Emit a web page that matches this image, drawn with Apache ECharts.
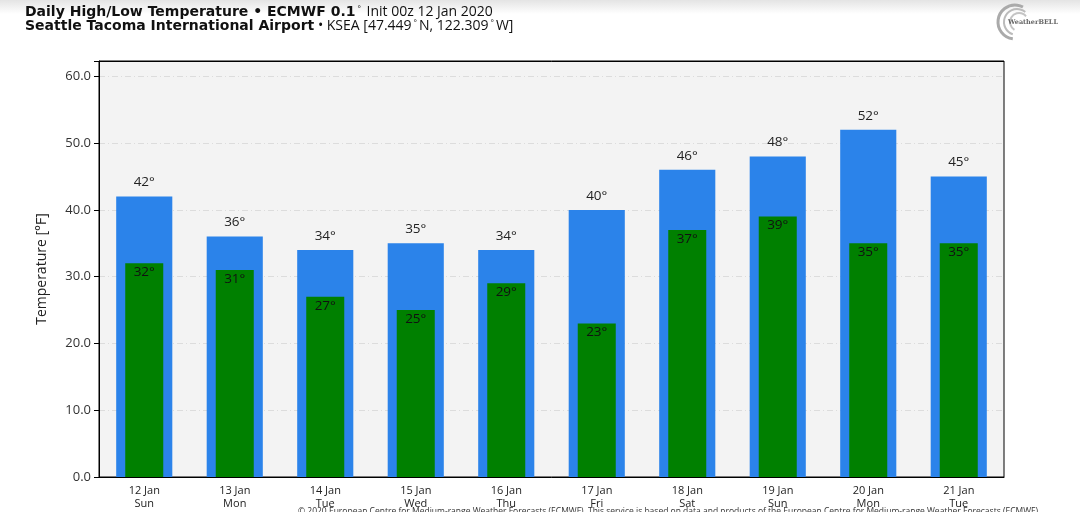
<!DOCTYPE html>
<html><head><meta charset="utf-8">
<script src="https://cdn.jsdelivr.net/npm/echarts@6/dist/echarts.min.js"></script>
<style>html,body{margin:0;padding:0;background:#fff}#c{width:1080px;height:512px}</style>
</head><body><div id="c"></div>
<script>
const dates = ['12 Jan','13 Jan','14 Jan','15 Jan','16 Jan','17 Jan','18 Jan','19 Jan','20 Jan','21 Jan'];
const weekdays = ['Sun','Mon','Tue','Wed','Thu','Fri','Sat','Sun','Mon','Tue'];
const highs = [42,36,34,35,34,40,46,48,52,45];
const lows = [32,31,27,25,29,23,37,39,35,35];
const yTicks = [0,10,20,30,40,50,60];

const chart = echarts.init(document.getElementById('c'));
const F = '"Open Sans", "Noto Sans", sans-serif';
const FB = '"DejaVu Sans", sans-serif';
const cats = dates.map((d,i) => d + '\n' + weekdays[i]);
chart.setOption({
  animation: false,
  textStyle: {fontFamily: F},
  title: {
    left: 20, top: 0,
    text: '{b|Daily High/Low Temperature • ECMWF 0.1}{s|°}{n| Init 00z 12 Jan 2020}\n{b|Seattle Tacoma International Airport}{n| • KSEA [47.449}{s|°}{n|N, 122.309}{s|°}{n|W]}',
    textStyle: {
      lineHeight: 14,
      rich: {
        b: {fontFamily: FB, fontWeight: 'bold', fontSize: 14, color: '#111', lineHeight: 14},
        n: {fontFamily: F, fontWeight: 'normal', fontSize: 14, color: '#111', lineHeight: 14},
        s: {fontFamily: F, fontWeight: 'normal', fontSize: 8, color: '#111', verticalAlign: 'top', lineHeight: 14, padding: [0, 2, 0, 2]}
      }
    }
  },
  graphic: [
    {type: 'rect', z: -10, shape: {x: 0, y: 0, width: 1080, height: 14},
     style: {fill: new echarts.graphic.LinearGradient(0,0,0,1,[{offset:0,color:'#e4e4e4'},{offset:1,color:'#ffffff'}])}},
    {type: 'arc', shape: {cx: 1015, cy: 22, r: 17, startAngle: 1.7, endAngle: 5.2}, style: {stroke: '#aaa', lineWidth: 3, fill: null}},
    {type: 'arc', shape: {cx: 1017, cy: 22, r: 13, startAngle: 1.9, endAngle: 5.4}, style: {stroke: '#bbb', lineWidth: 2, fill: null}},
    {type: 'arc', shape: {cx: 1019, cy: 22, r: 9, startAngle: 2.1, endAngle: 5.6}, style: {stroke: '#c4c4c4', lineWidth: 2, fill: null}},
    {type: 'text', left: 1008, top: 19, style: {text: 'WeatherBELL', font: 'bold 6.5px "DejaVu Serif"', fill: '#666'}},
    {type: 'text', left: 298, top: 507, style: {text: '© 2020 European Centre for Medium-range Weather Forecasts (ECMWF). This service is based on data and products of the European Centre for Medium-range Weather Forecasts (ECMWF).', font: '8.5px "Open Sans"', fill: '#333'}},
    {type: 'line', z: 100, shape: {x1: 99, y1: 61.5, x2: 1004, y2: 61.5}, style: {stroke: '#000', lineWidth: 1}}
  ],
  grid: {left: 99, right: 76, top: 61, bottom: 35, show: true, backgroundColor: '#f3f3f3', borderColor: '#000', borderWidth: 1},
  xAxis: [{
    type: 'category',
    data: cats,
    axisLine: {lineStyle: {color: '#000'}},
    axisTick: {alignWithLabel: true, length: 4, lineStyle: {color: '#000'}},
    axisLabel: {fontSize: 11, color: '#222', lineHeight: 12.5, margin: 8}
  }, {
    type: 'category', data: cats, show: false
  }],
  yAxis: {
    type: 'value', min: 0, max: 62.3, interval: 10,
    name: 'Temperature [°F]', nameLocation: 'middle', nameGap: 50,
    nameTextStyle: {fontSize: 14, color: '#222'},
    axisLine: {show: true, lineStyle: {color: '#000'}},
    axisTick: {show: true, length: 5, lineStyle: {color: '#000'}},
    axisLabel: {fontSize: 13, color: '#333', margin: 8,
      formatter: v => yTicks.includes(Math.round(v*10)/10) ? v.toFixed(1) : ''},
    splitLine: {show: true, lineStyle: {color: '#dcdcdc', type: [6,3,1,3]}}
  },
  series: [
    {type: 'bar', data: highs, xAxisIndex: 0, barWidth: '62%', itemStyle: {color: '#2b83ea'},
     label: {show: true, position: 'top', distance: 7, formatter: p => p.value + '°', fontSize: 13.5, color: '#222'}},
    {type: 'bar', data: lows, xAxisIndex: 1, barWidth: '42%', itemStyle: {color: '#008000'},
     label: {show: true, position: 'insideTop', distance: 2, formatter: p => p.value + '°', fontSize: 13.5, color: '#111'}}
  ]
});
</script></body></html>
